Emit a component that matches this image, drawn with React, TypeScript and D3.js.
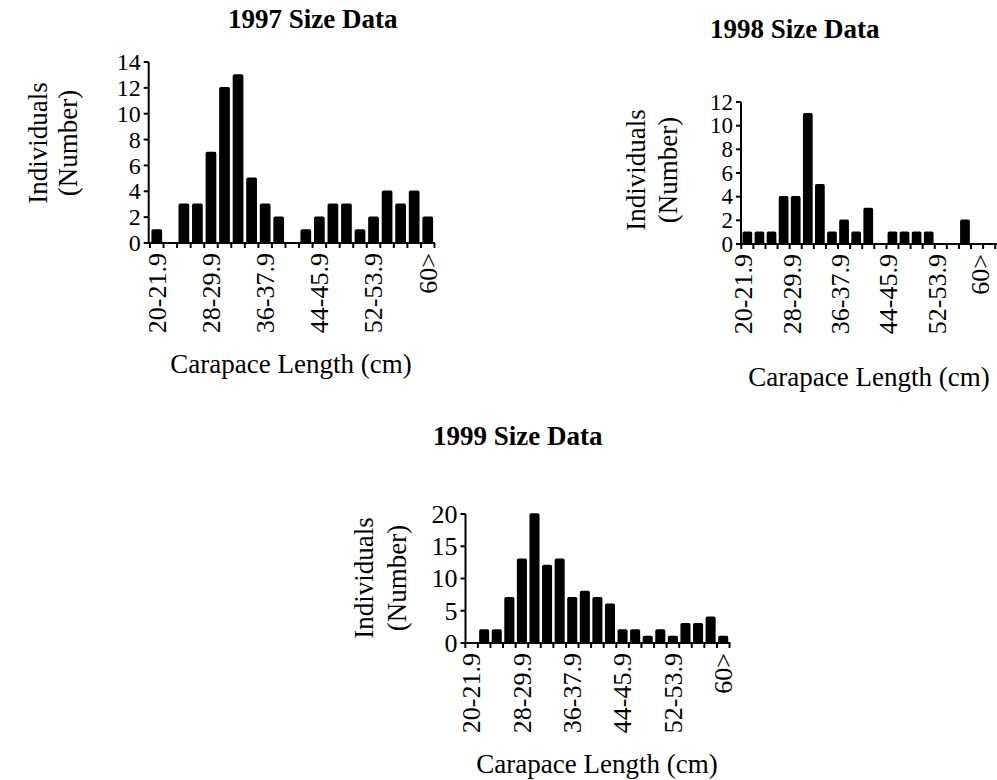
import React from "react";
import * as d3 from "d3";

const categories = [
  "20-21.9", "22-23.9", "24-25.9", "26-27.9", "28-29.9", "30-31.9", "32-33.9",
  "34-35.9", "36-37.9", "38-39.9", "40-41.9", "42-43.9", "44-45.9", "46-47.9",
  "48-49.9", "50-51.9", "52-53.9", "54-55.9", "56-57.9", "58-59.9", "60>",
];
const labeledCategories = ["20-21.9", "28-29.9", "36-37.9", "44-45.9", "52-53.9", "60>"];

const values1997 = [1, 0, 3, 3, 7, 12, 13, 5, 3, 2, 0, 1, 2, 3, 3, 1, 2, 4, 3, 4, 2];
const values1998 = [1, 1, 1, 4, 4, 11, 5, 1, 2, 1, 3, 0, 1, 1, 1, 1, 0, 0, 2, 0, 0];
const values1999 = [0, 2, 2, 7, 13, 20, 12, 13, 7, 8, 7, 6, 2, 2, 1, 2, 1, 3, 3, 4, 1];

const ticks1997 = [0, 2, 4, 6, 8, 10, 12, 14];
const ticks1998 = [0, 2, 4, 6, 8, 10, 12];
const ticks1999 = [0, 5, 10, 15, 20];

const FONT = "'Liberation Serif', 'Times New Roman', serif";
const WIDTH = 997;

type PanelProps = {
  title: string;
  values: number[];
  yTicks: number[];
  yTickFont: number;
  axisX: number;
  bandStart: number;
  bandEnd: number;
  axisEnd: number;
  y0: number;
  yTop: number;
  titleX: number;
  titleY: number;
  ylab1X: number;
  ylab2X: number;
  ylabCY: number;
  xlabX: number;
  xlabY: number;
  xTickShift: number;
};

function Panel(p: PanelProps) {
  const x = d3.scaleBand<string>().domain(categories).range([p.bandStart, p.bandEnd]).paddingInner(0.32).paddingOuter(0.16);
  const yMax = p.yTicks[p.yTicks.length - 1];
  const y = d3.scaleLinear().domain([0, yMax]).range([p.y0, p.yTop]);
  const step = (p.bandEnd - p.bandStart) / categories.length;
  const boundaries = d3.range(categories.length + 1).map((i) => p.bandStart + i * step);
  return (
    <g fontFamily={FONT} fill="#000">
      <text x={p.titleX} y={p.titleY} fontSize={27} fontWeight="bold">{p.title}</text>
      {categories.map((c, i) => (
        <rect
          key={c}
          x={x(c)!}
          y={y(p.values[i])}
          width={x.bandwidth()}
          height={p.y0 - y(p.values[i])}
          fill="#000"
          stroke="#000"
          strokeWidth={1.5}
          rx={1}
        />
      ))}
      <line x1={p.axisX} x2={p.axisX} y1={p.yTop} y2={p.y0} stroke="#000" strokeWidth={2} />
      <line x1={p.axisX - 1} x2={p.axisEnd} y1={p.y0} y2={p.y0} stroke="#000" strokeWidth={2} />
      {p.yTicks.map((t) => (
        <g key={t}>
          <line x1={p.axisX - 5} x2={p.axisX} y1={y(t)} y2={y(t)} stroke="#000" strokeWidth={2} />
          <text x={p.axisX - 8} y={y(t)} dy="0.34em" textAnchor="end" fontSize={p.yTickFont}>{t}</text>
        </g>
      ))}
      {boundaries.map((bx, i) => (
        <line key={i} x1={bx} x2={bx} y1={p.y0} y2={p.y0 + 5} stroke="#000" strokeWidth={2} />
      ))}
      {labeledCategories.map((c) => {
        const cx = Math.min(x(c)! + x.bandwidth() / 2 + p.xTickShift, WIDTH - 17);
        return (
          <text
            key={c}
            transform={`translate(${cx},${p.y0 + 10}) rotate(-90)`}
            dy="0.34em"
            textAnchor="end"
            fontSize={26}
          >
            {c}
          </text>
        );
      })}
      <text transform={`translate(${p.ylab1X},${p.ylabCY}) rotate(-90)`} textAnchor="middle" fontSize={27}>Individuals</text>
      <text transform={`translate(${p.ylab2X},${p.ylabCY}) rotate(-90)`} textAnchor="middle" fontSize={27}>(Number)</text>
      <text x={p.xlabX} y={p.xlabY} textAnchor="middle" fontSize={27}>Carapace Length (cm)</text>
    </g>
  );
}

export default function App() {
  return (
    <svg width={WIDTH} height={780} style={{ position: "absolute", left: 0, top: 0, background: "#fff" }}>
      <rect x={0} y={0} width={WIDTH} height={780} fill="#fff" />
      <Panel
        title="1997 Size Data"
        values={values1997}
        yTicks={ticks1997}
        yTickFont={24}
        axisX={148.7}
        bandStart={150}
        bandEnd={434.5}
        axisEnd={435}
        y0={243}
        yTop={62}
        titleX={228}
        titleY={28}
        ylab1X={47}
        ylab2X={77}
        ylabCY={143}
        xlabX={291}
        xlabY={373}
        xTickShift={0}
      />
      <Panel
        title="1998 Size Data"
        values={values1998}
        yTicks={ticks1998}
        yTickFont={23}
        axisX={741}
        bandStart={741.3}
        bandEnd={995.2}
        axisEnd={997}
        y0={244}
        yTop={102}
        titleX={710}
        titleY={38}
        ylab1X={645}
        ylab2X={677}
        ylabCY={170}
        xlabX={869}
        xlabY={386}
        xTickShift={-4}
      />
      <Panel
        title="1999 Size Data"
        values={values1999}
        yTicks={ticks1999}
        yTickFont={26}
        axisX={465.5}
        bandStart={465.3}
        bandEnd={729.5}
        axisEnd={730.5}
        y0={643}
        yTop={514}
        titleX={433}
        titleY={445}
        ylab1X={373}
        ylab2X={406}
        ylabCY={578}
        xlabX={597}
        xlabY={773}
        xTickShift={0}
      />
    </svg>
  );
}
